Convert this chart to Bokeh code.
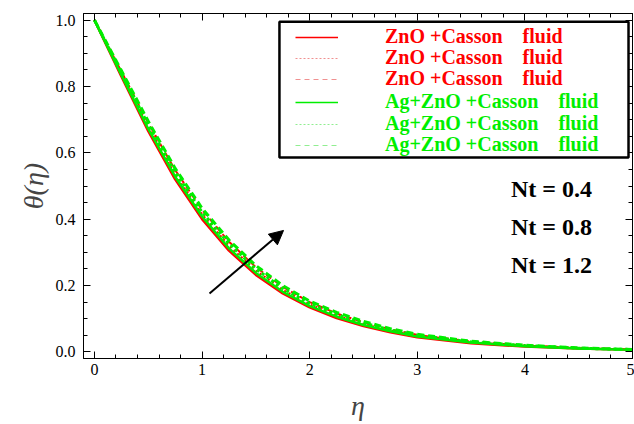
from bokeh.plotting import figure
from bokeh.models import (FixedTicker, LinearAxis, Range1d, Legend, LegendItem,
                          BoxAnnotation, Label, Arrow, NormalHead, CustomJSTickFormatter,
                          PrintfTickFormatter)
from bokeh.embed import file_html
from bokeh.resources import INLINE

# ---------------- data ----------------
eta = [0, 0.25, 0.5, 0.75, 1.0, 1.25, 1.5, 1.75, 2.0, 2.25, 2.5, 2.75, 3.0, 3.5, 4.0, 4.5, 5.0]

zno_nt04 = [1.0, 0.830, 0.665, 0.520, 0.400, 0.305, 0.232, 0.176, 0.134, 0.102, 0.078, 0.059, 0.044, 0.026, 0.016, 0.010, 0.006]
zno_nt08 = [1.0, 0.838, 0.678, 0.535, 0.415, 0.320, 0.245, 0.187, 0.143, 0.110, 0.084, 0.064, 0.048, 0.029, 0.018, 0.011, 0.007]
zno_nt12 = [1.0, 0.845, 0.690, 0.548, 0.428, 0.332, 0.255, 0.196, 0.150, 0.116, 0.089, 0.068, 0.051, 0.031, 0.019, 0.012, 0.007]
ag_nt04 = [1.0, 0.835, 0.672, 0.528, 0.408, 0.312, 0.238, 0.181, 0.138, 0.106, 0.081, 0.062, 0.046, 0.028, 0.017, 0.010, 0.006]
ag_nt08 = [1.0, 0.842, 0.684, 0.542, 0.421, 0.326, 0.250, 0.191, 0.146, 0.113, 0.087, 0.066, 0.050, 0.030, 0.019, 0.011, 0.007]
ag_nt12 = [1.0, 0.848, 0.695, 0.553, 0.433, 0.337, 0.260, 0.200, 0.153, 0.119, 0.092, 0.070, 0.053, 0.032, 0.020, 0.012, 0.007]

zno_label = "ZnO +Casson\u00a0\u00a0\u00a0 fluid"
ag_label = "Ag+ZnO +Casson\u00a0\u00a0\u00a0 fluid"
nt_labels = ["Nt = 0.4", "Nt = 0.8", "Nt = 1.2"]

x_ticks = [0, 1, 2, 3, 4, 5]
x_minor = [i * 0.2 for i in range(26)]
y_ticks = [0.0, 0.2, 0.4, 0.6, 0.8, 1.0]
y_minor = [i * 0.05 for i in range(21)]

SERIF = "Liberation Serif"
RED = "#ff0000"
GREEN = "#00ee00"
PALE_RED = "#f09090"
PALE_GREEN = "#90ee90"

# ---------------- figure ----------------
p = figure(width=634, height=424, output_backend="svg", toolbar_location=None,
           x_range=Range1d(-0.102, 5.0), y_range=Range1d(-0.02, 1.02),
           min_border_left=83, min_border_right=2, min_border_top=13, min_border_bottom=66)
p.grid.visible = False
p.outline_line_color = "black"
p.outline_line_width = 1
p.background_fill_color = "white"

# curves
p.line(eta, zno_nt04, line_color=RED, line_width=2.5)
p.line(eta, zno_nt08, line_color=RED, line_width=2, line_dash="2 3")
p.line(eta, zno_nt12, line_color=RED, line_width=2, line_dash="6 4")
p.line(eta, ag_nt04, line_color=GREEN, line_width=2.5)
p.line(eta, ag_nt08, line_color=GREEN, line_width=3, line_dash="3 3")
p.line(eta, ag_nt12, line_color=GREEN, line_width=3, line_dash="7 4")

# legend sample glyphs (thin, as in the reference legend); hidden in the plot area
leg_styles = [
    (zno_nt04, RED, 1.5, "solid"),
    (zno_nt08, PALE_RED, 1, "2 2"),
    (zno_nt12, PALE_RED, 1, "5 4"),
    (ag_nt04, GREEN, 1.5, "solid"),
    (ag_nt08, PALE_GREEN, 1, "2 2"),
    (ag_nt12, PALE_GREEN, 1, "5 4"),
]
leg_renderers = [p.line(eta, ys, line_color=c, line_width=w, line_dash=d, visible=False)
                 for ys, c, w, d in leg_styles]

# axes styling
def style_axis(ax, ticks, minor, show_labels=True):
    ax.ticker = FixedTicker(ticks=ticks, minor_ticks=minor)
    ax.major_tick_in = 7
    ax.major_tick_out = 0
    ax.minor_tick_in = 4
    ax.minor_tick_out = 0
    ax.axis_line_color = "black"
    ax.major_tick_line_color = "black"
    ax.minor_tick_line_color = "black"
    ax.major_label_text_font = SERIF
    ax.major_label_text_font_size = "16px"
    ax.major_label_text_color = "black"
    if not show_labels:
        ax.formatter = CustomJSTickFormatter(code="return ''")
        ax.major_label_standoff = 0

xa = p.xaxis[0]
style_axis(xa, x_ticks, x_minor)
xa.major_label_standoff = 5
xa.axis_label = "η"
xa.axis_label_text_font = SERIF
xa.axis_label_text_font_style = "italic"
xa.axis_label_text_font_size = "28px"
xa.axis_label_standoff = 12

ya = p.yaxis[0]
style_axis(ya, y_ticks, y_minor)
ya.formatter = PrintfTickFormatter(format="%.1f")
ya.major_label_standoff = 8
ya.axis_label = "θ(η)"
ya.axis_label_text_font = SERIF
ya.axis_label_text_font_style = "italic"
ya.axis_label_text_font_size = "28px"
ya.axis_label_standoff = 4

top = LinearAxis()
style_axis(top, x_ticks, x_minor, show_labels=False)
p.add_layout(top, "above")
right = LinearAxis()
style_axis(right, y_ticks, y_minor, show_labels=False)
p.add_layout(right, "right")

# legend box
box = BoxAnnotation(left=1.719, right=4.963, bottom=0.586, top=0.995,
                    fill_color="white", fill_alpha=1.0,
                    line_color="black", line_alpha=1.0, line_width=2.5)
p.add_layout(box)

row_bottoms = [310, 289, 268, 245, 223, 202]
row_labels = [zno_label] * 3 + [ag_label] * 3
row_colors = [RED] * 3 + [GREEN] * 3
for r, lab, col, yb in zip(leg_renderers, row_labels, row_colors, row_bottoms):
    lg = Legend(items=[LegendItem(label=lab, renderers=[r])], location=(212, yb))
    lg.label_text_color = col
    lg.label_text_font = SERIF
    lg.label_text_font_style = "bold"
    lg.label_text_font_size = "20px"
    lg.label_height = 22
    lg.glyph_height = 22
    lg.glyph_width = 43
    lg.label_standoff = 47
    lg.spacing = 0
    lg.padding = 0
    lg.margin = 0
    lg.background_fill_alpha = 0
    lg.border_line_alpha = 0
    lg.inactive_fill_alpha = 0
    lg.click_policy = "none"
    p.add_layout(lg, "center")

# Nt labels
for txt, yy in zip(nt_labels, [0.492, 0.375, 0.261]):
    p.add_layout(Label(x=4.247, y=yy, text=txt, text_align="center", text_baseline="middle",
                       text_font=SERIF, text_font_style="bold", text_font_size="24px",
                       text_color="black"))

# arrow
p.add_layout(Arrow(x_start=1.069, y_start=0.176, x_end=1.757, y_end=0.366,
                   line_color="black", line_width=2,
                   end=NormalHead(size=14, fill_color="black", line_color="black")))

open("out.html", "w").write(file_html(p, INLINE))
